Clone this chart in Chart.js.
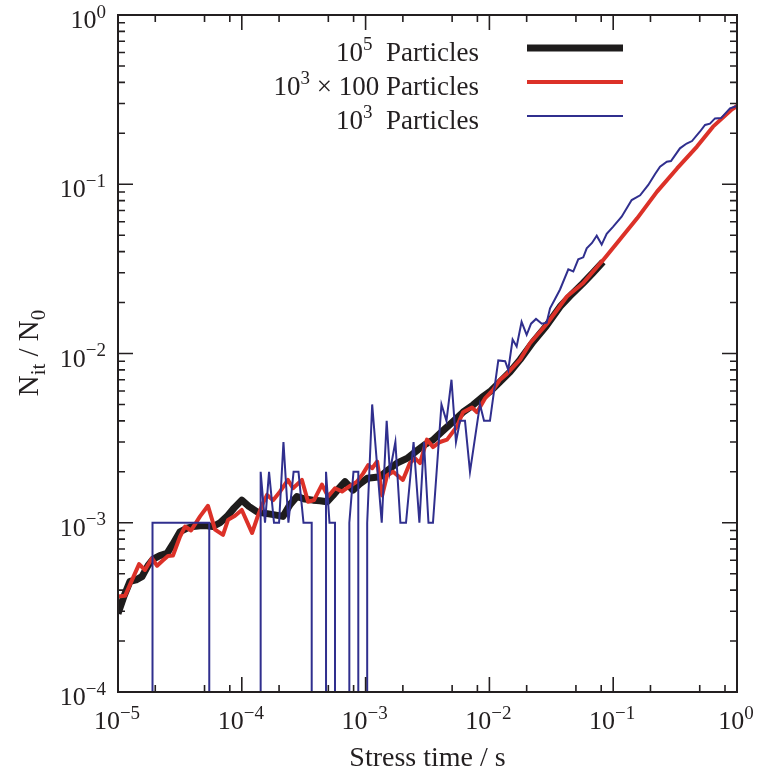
<!DOCTYPE html>
<html lang="en">
<head>
<meta charset="utf-8">
<title>Stress time</title>
<script src="https://cdn.jsdelivr.net/npm/chart.js"></script>
<style>
html, body { margin: 0; padding: 0; background: #fff; }
#chart { display: block; }
</style>
</head>
<body>
<canvas id="chart" width="758" height="773"></canvas>
<script>
// 10^5 particles
const bigTime = [
    1.00e-5, 1.12e-5, 1.25e-5, 1.40e-5, 1.56e-5, 1.75e-5, 1.92e-5, 2.18e-5, 2.49e-5, 2.78e-5,
    3.17e-5, 3.61e-5, 4.04e-5, 4.60e-5, 5.24e-5, 5.85e-5, 6.67e-5, 7.59e-5, 8.65e-5, 1.00e-4,
    1.14e-4, 1.33e-4, 1.51e-4, 1.75e-4, 2.15e-4, 2.45e-4, 2.79e-4, 3.24e-4, 3.76e-4, 4.28e-4,
    4.88e-4, 5.45e-4, 6.10e-4, 6.82e-4, 7.91e-4, 9.01e-4, 1.03e-3, 1.17e-3, 1.31e-3, 1.52e-3,
    1.79e-3, 2.16e-3, 2.65e-3, 3.02e-3, 3.50e-3, 4.22e-3, 5.08e-3, 6.12e-3, 7.37e-3, 8.71e-3,
    1.01e-2, 1.22e-2, 1.47e-2, 1.77e-2, 2.25e-2, 2.87e-2, 3.72e-2, 4.65e-2, 5.70e-2, 6.87e-2, 8.27e-2
];
const bigRatio = [
    2.9e-4, 3.7e-4, 4.5e-4, 4.6e-4, 4.8e-4, 5.6e-4, 6.1e-4, 6.4e-4, 6.6e-4, 7.5e-4,
    8.85e-4, 9.3e-4, 9.5e-4, 9.6e-4, 9.6e-4, 9.5e-4, 1.0e-3, 1.09e-3, 1.22e-3, 1.36e-3,
    1.25e-3, 1.16e-3, 1.14e-3, 1.12e-3, 1.09e-3, 1.28e-3, 1.43e-3, 1.38e-3, 1.36e-3, 1.35e-3,
    1.33e-3, 1.45e-3, 1.6e-3, 1.75e-3, 1.56e-3, 1.7e-3, 1.83e-3, 1.85e-3, 1.87e-3, 2.05e-3,
    2.25e-3, 2.4e-3, 2.7e-3, 2.9e-3, 3.08e-3, 3.5e-3, 3.96e-3, 4.5e-3, 4.96e-3, 5.5e-3,
    5.95e-3, 6.8e-3, 7.8e-3, 9.2e-3, 1.17e-2, 1.45e-2, 1.89e-2, 2.25e-2, 2.6e-2, 3.0e-2, 3.48e-2
];
// 10^3 x 100 particles
const avgTime = [
    1.00e-5, 1.14e-5, 1.30e-5, 1.48e-5, 1.65e-5, 1.88e-5, 2.07e-5, 2.31e-5, 2.53e-5, 2.78e-5,
    3.17e-5, 3.48e-5, 3.89e-5, 4.60e-5, 5.33e-5, 6.08e-5, 7.05e-5, 7.74e-5, 8.81e-5, 1.00e-4,
    1.21e-4, 1.35e-4, 1.48e-4, 1.60e-4, 1.79e-4, 2.04e-4, 2.36e-4, 2.59e-4, 3.06e-4, 3.43e-4,
    3.83e-4, 4.44e-4, 4.97e-4, 5.66e-4, 6.45e-4, 7.48e-4, 8.52e-4, 9.53e-4, 1.05e-3, 1.13e-3,
    1.24e-3, 1.36e-3, 1.49e-3, 1.67e-3, 2.00e-3, 2.28e-3, 2.51e-3, 2.75e-3, 3.13e-3, 3.50e-3,
    3.99e-3, 4.55e-3, 5.47e-3, 6.12e-3, 7.23e-3, 7.94e-3, 9.21e-3, 1.07e-2, 1.22e-2, 1.39e-2,
    1.77e-2, 2.13e-2, 2.92e-2, 4.23e-2, 5.70e-2, 8.27e-2, 0.107, 0.156, 0.226, 0.328,
    0.475, 0.640, 0.911, 1.0
];
const avgRatio = [
    3.66e-4, 3.7e-4, 4.6e-4, 5.7e-4, 5.26e-4, 6.17e-4, 5.57e-4, 6.0e-4, 6.37e-4, 6.4e-4,
    8.28e-4, 9.5e-4, 9.0e-4, 1.09e-3, 1.26e-3, 9.1e-4, 8.47e-4, 1.04e-3, 1.1e-3, 1.19e-3,
    8.7e-4, 1.1e-3, 1.3e-3, 1.46e-3, 1.36e-3, 1.53e-3, 1.79e-3, 1.6e-3, 1.79e-3, 1.33e-3,
    1.36e-3, 1.68e-3, 1.43e-3, 1.6e-3, 1.53e-3, 1.65e-3, 1.75e-3, 1.95e-3, 2.19e-3, 2.1e-3,
    2.3e-3, 1.45e-3, 1.9e-3, 2.0e-3, 1.79e-3, 2.25e-3, 2.4e-3, 2.25e-3, 3.1e-3, 2.8e-3,
    3.0e-3, 3.1e-3, 3.7e-3, 4.5e-3, 4.8e-3, 4.5e-3, 5.43e-3, 6.1e-3, 7.0e-3, 7.6e-3,
    9.2e-3, 1.15e-2, 1.5e-2, 2.17e-2, 2.6e-2, 3.56e-2, 4.48e-2, 6.29e-2, 9.04e-2, 0.124,
    0.167, 0.219, 0.277, 0.29
];
// 10^3 particles, 0 = nothing left (sits on the bottom axis)
const smallTime = [
    1.00e-5, 1.90e-5, 1.90e-5, 5.46e-5, 5.46e-5, 1.42e-4, 1.42e-4, 1.54e-4, 1.66e-4, 1.82e-4,
    2.00e-4, 2.17e-4, 2.38e-4, 2.62e-4, 2.87e-4, 3.15e-4, 3.67e-4, 3.67e-4, 4.79e-4, 4.79e-4,
    5.11e-4, 5.66e-4, 5.66e-4, 7.39e-4, 7.39e-4, 7.98e-4, 8.73e-4, 8.73e-4, 1.03e-3, 1.03e-3,
    1.13e-3, 1.35e-3, 1.48e-3, 1.57e-3, 1.74e-3, 1.91e-3, 2.12e-3, 2.44e-3, 2.72e-3, 2.96e-3,
    3.22e-3, 3.50e-3, 4.10e-3, 4.50e-3, 4.94e-3, 5.37e-3, 5.79e-3, 6.35e-3, 6.97e-3, 8.39e-3,
    9.05e-3, 1.01e-2, 1.18e-2, 1.34e-2, 1.42e-2, 1.54e-2, 1.66e-2, 1.82e-2, 2.00e-2, 2.17e-2,
    2.38e-2, 2.65e-2, 2.90e-2, 3.09e-2, 3.39e-2, 3.72e-2, 4.34e-2, 4.76e-2, 5.22e-2, 5.73e-2,
    6.11e-2, 6.74e-2, 7.36e-2, 8.07e-2, 8.86e-2, 9.96e-2, 0.117, 0.141, 0.165, 0.192,
    0.218, 0.239, 0.271, 0.293, 0.346, 0.392, 0.433, 0.503, 0.552, 0.605,
    0.664, 0.743, 0.878, 1.0
];
const smallRatio = [
    0, 0, 1e-3, 1e-3, 0, 0, 2e-3, 1e-3, 2e-3, 1e-3,
    1e-3, 3e-3, 1e-3, 2e-3, 2e-3, 1e-3, 1e-3, 0, 0, 2e-3,
    1e-3, 1e-3, 0, 0, 1e-3, 2e-3, 2e-3, 0, 0, 1e-3,
    5e-3, 1e-3, 4e-3, 2e-3, 3e-3, 1e-3, 1e-3, 3e-3, 1e-3, 3e-3,
    1e-3, 1e-3, 5e-3, 4e-3, 7e-3, 3e-3, 4e-3, 4e-3, 2e-3, 5e-3,
    4e-3, 4e-3, 9.1e-3, 9.0e-3, 8.0e-3, 1.21e-2, 1.1e-2, 1.54e-2, 1.29e-2, 1.5e-2,
    1.6e-2, 1.5e-2, 1.52e-2, 1.85e-2, 2.1e-2, 2.39e-2, 3.14e-2, 3.05e-2, 3.6e-2, 3.7e-2,
    4.18e-2, 4.5e-2, 4.97e-2, 4.4e-2, 5.1e-2, 5.6e-2, 6.43e-2, 8.07e-2, 8.6e-2, 9.9e-2,
    0.115, 0.127, 0.136, 0.137, 0.163, 0.174, 0.18, 0.205, 0.224, 0.228,
    0.245, 0.246, 0.281, 0.29
];

const seriesNames = ['10^{5}  Particles', '10^{3} × 100 Particles', '10^{3}  Particles'];
const xMajor = [1e-5, 1e-4, 1e-3, 1e-2, 1e-1, 1];
const xLabels = ['10^{−5}', '10^{−4}', '10^{−3}', '10^{−2}', '10^{−1}', '10^{0}'];
const xMinorSteps = [2, 5, 8];
const yMajor = [1e-4, 1e-3, 1e-2, 1e-1, 1];
const yLabels = ['10^{−4}', '10^{−3}', '10^{−2}', '10^{−1}', '10^{0}'];
const yMinorSteps = [2, 3, 4, 5, 6, 7, 8, 9];
const xTitle = 'Stress time / s';
const yTitle = 'N_{it} / N_{0}';

const ink = '#231f20';
const colors = ['#1e1c1c', '#dc3128', '#302f8e'];
const widths = [7, 4, 2];
const yMin = 1e-4;
const serif = '"Liberation Serif", "Times New Roman", serif';

function pairs(xs, ys) {
    return xs.map((t, i) => ({ x: t, y: ys[i] > 0 ? ys[i] : yMin }));
}

// split 'a^{b}c_{d}' into pieces
function pieces(s) {
    const out = [];
    s.replace(/([\^_])\{([^}]*)\}|([^\^_]+)/g, (m, mark, inner, plain) => {
        out.push(plain !== undefined ? { t: plain, k: '' } : { t: inner, k: mark });
    });
    return out;
}

function rich(ctx, s, x, y, size, align) {
    const ps = pieces(s);
    const big = size + 'px ' + serif;
    const small = Math.round(size * 0.72) + 'px ' + serif;
    let w = 0;
    ps.forEach(p => { ctx.font = p.k ? small : big; p.w = ctx.measureText(p.t).width; w += p.w; });
    let cx = align === 'right' ? x - w : align === 'center' ? x - w / 2 : x;
    ps.forEach(p => {
        ctx.font = p.k ? small : big;
        const dy = p.k === '^' ? -size * 0.4 : p.k === '_' ? size * 0.24 : 0;
        ctx.fillText(p.t, cx, y + dy);
        cx += p.w;
    });
}

const frame = {
    id: 'frame',
    afterDraw(chart) {
        const { ctx, chartArea: a } = chart;
        const xs = chart.scales.x, ys = chart.scales.y;
        ctx.save();
        ctx.strokeStyle = ink;
        ctx.fillStyle = ink;
        ctx.textAlign = 'left';
        ctx.textBaseline = 'alphabetic';

        // ticks, inward on all four sides
        ctx.lineWidth = 1.6;
        ctx.beginPath();
        const vtick = (p, len) => { ctx.moveTo(p, a.bottom); ctx.lineTo(p, a.bottom - len); ctx.moveTo(p, a.top); ctx.lineTo(p, a.top + len); };
        const htick = (p, len) => { ctx.moveTo(a.left, p); ctx.lineTo(a.left + len, p); ctx.moveTo(a.right, p); ctx.lineTo(a.right - len, p); };
        xMajor.forEach((v, i) => {
            vtick(xs.getPixelForValue(v), 15);
            if (i < xMajor.length - 1) xMinorSteps.forEach(m => vtick(xs.getPixelForValue(v * m), 7));
        });
        yMajor.forEach((v, i) => {
            htick(ys.getPixelForValue(v), 15);
            if (i < yMajor.length - 1) yMinorSteps.forEach(m => htick(ys.getPixelForValue(v * m), 7));
        });
        ctx.stroke();

        ctx.lineWidth = 2;
        ctx.strokeRect(a.left, a.top, a.right - a.left, a.bottom - a.top);

        // tick labels
        xMajor.forEach((v, i) => rich(ctx, xLabels[i], xs.getPixelForValue(v) - 1, a.bottom + 37, 26, 'center'));
        yMajor.forEach((v, i) => rich(ctx, yLabels[i], a.left - 12, ys.getPixelForValue(v) + 13, 26, 'right'));

        // axis titles
        rich(ctx, xTitle, (a.left + a.right) / 2, 766, 28, 'center');
        ctx.save();
        ctx.translate(38, 353);
        ctx.rotate(-Math.PI / 2);
        rich(ctx, yTitle, 0, 0, 29, 'center');
        ctx.restore();

        // legend
        seriesNames.forEach((name, i) => {
            const base = 61 + i * 34;
            ctx.fillStyle = ink;
            rich(ctx, name, 479, base, 27, 'right');
            ctx.strokeStyle = colors[i];
            ctx.lineWidth = widths[i];
            ctx.beginPath();
            ctx.moveTo(527, base - 13);
            ctx.lineTo(623, base - 13);
            ctx.stroke();
        });
        ctx.restore();
    }
};

new Chart(document.getElementById('chart'), {
    type: 'line',
    data: {
        datasets: [
            { label: seriesNames[0], data: pairs(bigTime, bigRatio), borderColor: colors[0], borderWidth: widths[0], borderJoinStyle: 'round', order: 3 },
            { label: seriesNames[1], data: pairs(avgTime, avgRatio), borderColor: colors[1], borderWidth: widths[1], borderJoinStyle: 'round', order: 2 },
            { label: seriesNames[2], data: pairs(smallTime, smallRatio), borderColor: colors[2], borderWidth: widths[2], order: 1 }
        ]
    },
    options: {
        responsive: false,
        animation: false,
        layout: { padding: { left: 118, right: 21, top: 15, bottom: 81 } },
        elements: { point: { radius: 0 }, line: { tension: 0, fill: false } },
        plugins: { legend: { display: false }, tooltip: { enabled: false } },
        scales: {
            x: { type: 'logarithmic', min: 1e-5, max: 1, display: false },
            y: { type: 'logarithmic', min: 1e-4, max: 1, display: false }
        }
    },
    plugins: [frame]
});
</script>
</body>
</html>
